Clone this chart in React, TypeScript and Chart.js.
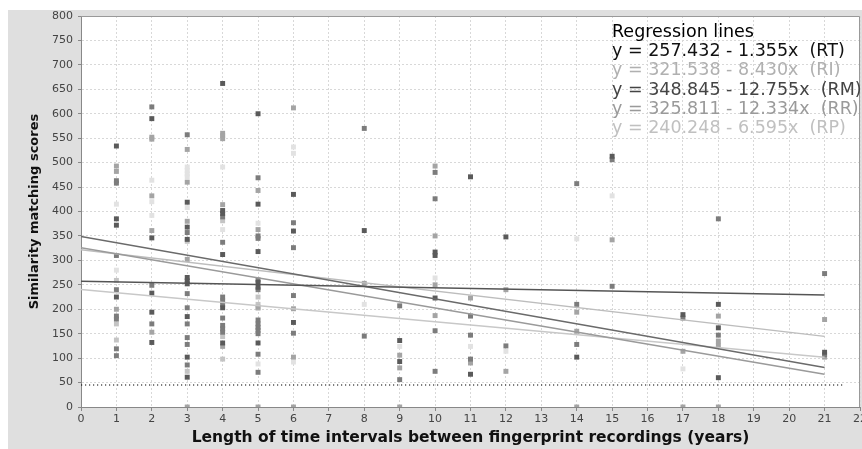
import React, { useEffect, useRef } from "react";
import { Chart, registerables } from "chart.js";

Chart.register(...registerables);

// ---- axis ranges / ticks ----
const xMin = 0;
const xMax = 22;
const xStep = 1;
const yMin = 0;
const yMax = 800;
const yStep = 50;

const xTitle = "Length of time intervals between fingerprint recordings (years)";
const yTitle = "Similarity matching scores";

// ---- scatter points per method: [interval (years), score] ----
const rtPoints: [number, number][] = [
  [1, 534], [1, 385], [1, 372], [1, 225],
  [2, 590], [2, 346], [2, 233], [2, 194], [2, 132],
  [3, 419], [3, 368], [3, 343], [3, 265], [3, 258], [3, 252], [3, 185], [3, 102], [3, 61],
  [4, 662], [4, 402], [4, 396], [4, 312], [4, 203], [4, 131],
  [5, 600], [5, 415], [5, 318], [5, 255], [5, 245], [5, 131],
  [6, 435], [6, 360], [6, 173],
  [8, 361], [9, 136], [9, 93],
  [10, 317], [10, 310], [10, 223],
  [11, 471], [11, 67], [12, 348], [14, 102], [15, 513], [17, 189],
  [18, 210], [18, 162], [18, 60], [21, 112],
];
const riPoints: [number, number][] = [
  [1, 259], [1, 170], [1, 137],
  [3, 339], [3, 73],
  [4, 381], [4, 144], [4, 98],
  [5, 225], [5, 210], [5, 202],
];
const rmPoints: [number, number][] = [
  [1, 463], [1, 458], [1, 310], [1, 240], [1, 186], [1, 180], [1, 119], [1, 105],
  [2, 614], [2, 249], [2, 170],
  [3, 557], [3, 357], [3, 232], [3, 203], [3, 170], [3, 142], [3, 128], [3, 86],
  [4, 389], [4, 337], [4, 225], [4, 217], [4, 210], [4, 182], [4, 167], [4, 160], [4, 153],
  [5, 469], [5, 350], [5, 345], [5, 260], [5, 240], [5, 178], [5, 170], [5, 163], [5, 157], [5, 150], [5, 108], [5, 71],
  [6, 377], [6, 326], [6, 228], [6, 151],
  [8, 570], [8, 145], [9, 207], [9, 56],
  [10, 480], [10, 426], [10, 156], [10, 73],
  [11, 186], [11, 147], [11, 98], [12, 125],
  [14, 457], [14, 210], [14, 128], [15, 506], [15, 247], [17, 182],
  [18, 385], [18, 147], [21, 273], [21, 107],
];
const rrPoints: [number, number][] = [
  [1, 493], [1, 482], [1, 200],
  [2, 552], [2, 548], [2, 432], [2, 361], [2, 153],
  [3, 527], [3, 460], [3, 380], [3, 302], [3, 0],
  [4, 560], [4, 555], [4, 549], [4, 414], [4, 124],
  [5, 443], [5, 363], [5, 204], [5, 0],
  [6, 612], [6, 201], [6, 102], [6, 0],
  [8, 253], [9, 106], [9, 80], [9, 0],
  [10, 493], [10, 350], [10, 250], [10, 187],
  [11, 223], [11, 90], [12, 240], [12, 73],
  [14, 194], [14, 155], [14, 0], [15, 342], [17, 114], [17, 0],
  [18, 186], [18, 135], [18, 126], [18, 0], [21, 179], [21, 102],
];
const rpPoints: [number, number][] = [
  [1, 415], [1, 280],
  [2, 464], [2, 420], [2, 392],
  [3, 491], [3, 484], [3, 477], [3, 471], [3, 408],
  [4, 491], [4, 363],
  [5, 376], [5, 88],
  [6, 532], [6, 519], [6, 92],
  [8, 210], [9, 124], [10, 264], [11, 124], [12, 114],
  [14, 344], [15, 432], [17, 78],
];

// ---- regression lines (value at x = 0 and at x = 21) ----
const lineX = [0, 21];
const rtLine = [257.4, 229.0];
const riLine = [321.5, 144.5];
const rmLine = [348.8, 81.0];
const rrLine = [325.8, 66.8];
const rpLine = [240.2, 101.8];

// ---- threshold dotted line ----
const thresholdX = [0, 21.5];
const thresholdY = [45, 45];

// ---- legend texts ----
const legendTitle = "Regression lines";
const legendLines = [
  "y = 257.432 - 1.355x  (RT)",
  "y = 321.538 - 8.430x  (RI)",
  "y = 348.845 - 12.755x  (RM)",
  "y = 325.811 - 12.334x  (RR)",
  "y = 240.248 - 6.595x  (RP)",
];
const legendColors = ["#111111", "#b0b0b0", "#444444", "#9a9a9a", "#c0c0c0"];

const toXY = (pts: [number, number][]) => pts.map(([x, y]) => ({ x, y }));
const lineData = (ys: number[], xs: number[]) => xs.map((x, i) => ({ x, y: ys[i] }));

const FONT = "'DejaVu Sans', sans-serif";

export default function App() {
  const ref = useRef<HTMLCanvasElement | null>(null);

  useEffect(() => {
    if (!ref.current) return;

    const frame = {
      id: "frame",
      beforeDraw(chart: any) {
        const { ctx, chartArea: a } = chart;
        ctx.save();
        ctx.fillStyle = "#ffffff";
        ctx.fillRect(a.left, a.top, a.right - a.left, a.bottom - a.top);
        ctx.restore();
      },
      afterDraw(chart: any) {
        const { ctx, chartArea: a } = chart;
        ctx.save();
        ctx.strokeStyle = "#999999";
        ctx.lineWidth = 1;
        ctx.beginPath();
        ctx.moveTo(a.left, a.top + 0.5);
        ctx.lineTo(a.right - 0.5, a.top + 0.5);
        ctx.lineTo(a.right - 0.5, a.bottom);
        ctx.stroke();
        // legend text
        ctx.textAlign = "left";
        ctx.textBaseline = "alphabetic";
        ctx.font = `17.5px ${FONT}`;
        const lx = 604;
        let ly = 27;
        ctx.fillStyle = "#000000";
        ctx.fillText(legendTitle, lx, ly);
        legendLines.forEach((t, i) => {
          ly += 19.2;
          ctx.fillStyle = legendColors[i];
          ctx.fillText(t, lx, ly);
        });
        ctx.restore();
      },
    };

    const pointDs = (label: string, pts: [number, number][], color: string) => ({
      label,
      data: toXY(pts),
      showLine: false,
      pointStyle: "rect",
      pointRadius: 3.5,
      pointBorderWidth: 0,
      pointBackgroundColor: color,
      pointBorderColor: color,
    });
    const lineDs = (label: string, ys: number[], color: string) => ({
      label,
      data: lineData(ys, lineX),
      showLine: true,
      borderColor: color,
      borderWidth: 1.5,
      pointRadius: 0,
      fill: false,
    });

    const chart = new Chart(ref.current, {
      type: "scatter",
      data: {
        datasets: [
          lineDs("RT line", rtLine, "#555555"),
          lineDs("RM line", rmLine, "#6a6a6a"),
          lineDs("RR line", rrLine, "#9a9a9a"),
          lineDs("RI line", riLine, "#bdbdbd"),
          lineDs("RP line", rpLine, "#c8c8c8"),
          {
            label: "threshold",
            data: lineData(thresholdY, thresholdX),
            showLine: true,
            borderColor: "#000000",
            borderWidth: 1.2,
            borderDash: [1.2, 2.8],
            pointRadius: 0,
            fill: false,
          } as any,
          pointDs("RT", rtPoints, "#5a5a5a"),
          pointDs("RM", rmPoints, "#7c7c7c"),
          pointDs("RR", rrPoints, "#a4a4a4"),
          pointDs("RI", riPoints, "#c4c4c4"),
          pointDs("RP", rpPoints, "#e2e2e2"),
        ] as any,
      },
      options: {
        animation: false,
        responsive: true,
        maintainAspectRatio: false,
        layout: { padding: { left: 0, top: 6, right: 10, bottom: 0 } },
        plugins: {
          legend: { display: false },
          tooltip: { enabled: false },
        },
        scales: {
          x: {
            type: "linear",
            min: xMin,
            max: xMax,
            ticks: {
              stepSize: xStep,
              color: "#444444",
              font: { family: FONT, size: 11 },
              padding: 2,
              maxRotation: 0,
              autoSkip: false,
            },
            grid: {
              color: "#d8d8d8",
              lineWidth: 1,
              tickLength: 4,
              tickColor: "#888888",
            },
            border: { color: "#888888", width: 1, dash: [2, 2] },
            title: {
              display: true,
              text: xTitle,
              color: "#111111",
              font: { family: FONT, size: 15.5, weight: "bold" },
              padding: { top: 0, bottom: 2 },
            },
            afterFit: (s: any) => {
              s.height = 42;
            },
          },
          y: {
            type: "linear",
            min: yMin,
            max: yMax,
            ticks: {
              stepSize: yStep,
              color: "#444444",
              font: { family: FONT, size: 11 },
              padding: 5,
              autoSkip: false,
            },
            grid: {
              color: "#d8d8d8",
              lineWidth: 1,
              tickLength: 3,
              tickColor: "#888888",
            },
            border: { color: "#888888", width: 1, dash: [2, 2] },
            title: {
              display: true,
              text: yTitle,
              color: "#111111",
              font: { family: FONT, size: 13, weight: "bold" },
              padding: { top: 19, bottom: 0 },
            },
            afterFit: (s: any) => {
              s.width = 73;
              s.paddingTop = 5;
              s.paddingBottom = 0;
            },
          },
        },
      } as any,
      plugins: [frame],
    });

    return () => chart.destroy();
  }, []);

  return (
    <div
      style={{
        position: "fixed",
        left: 8,
        top: 10,
        width: 854,
        height: 439,
        overflow: "hidden",
        background: "#dfdfdf",
      }}
    >
      <div style={{ position: "relative", width: 862, height: 439 }}>
        <canvas ref={ref} />
      </div>
    </div>
  );
}
